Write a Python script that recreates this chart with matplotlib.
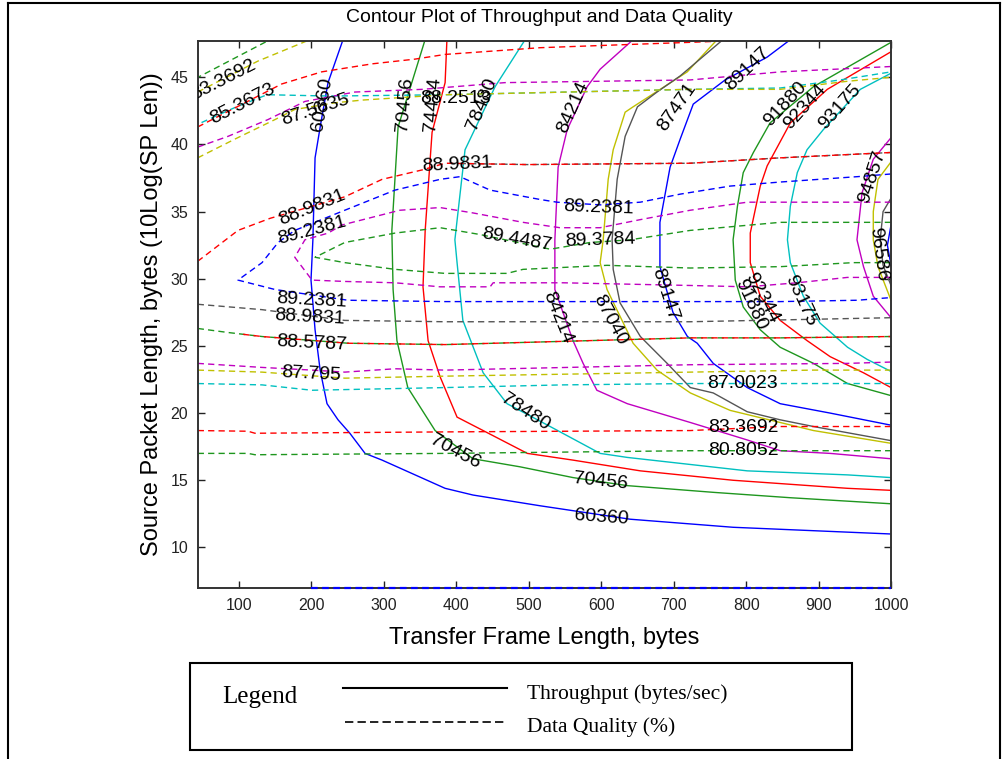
import matplotlib
matplotlib.use("Agg")
import matplotlib.pyplot as plt
from matplotlib import font_manager as fm
from matplotlib.lines import Line2D
from matplotlib.patches import Rectangle

# MATLAB style contour colours
BLUE = '#0000ff'
GREEN = '#1e961e'
RED = '#ff0000'
CYAN = '#00c0c0'
MAGENTA = '#c000c0'
YELLOW = '#c0c000'
GRAY = '#555555'

# --- throughput contours (solid), x = frame length (bytes), y = 10log(SP len)
tp_60360_x = [243.6, 222.9, 213, 205, 202, 199.4, 205, 212, 221.5, 236.7, 253, 274, 297.5, 384.5, 423, 515.7, 640, 782, 1000]
tp_60360_y = [47.8, 44.6, 41.6, 39.0, 32.9, 29.9, 26.2, 23.2, 20.7, 19.5, 18.5, 17.0, 16.5, 14.4, 13.9, 13.1, 12.1, 11.5, 11.0]
tp_70456_x = [356.9, 319.6, 311, 312.7, 318, 333, 370.7, 423, 488, 561, 636, 755, 861, 1000]
tp_70456_y = [47.8, 41.3, 33.6, 29.2, 25.4, 21.9, 18.7, 16.6, 16.0, 15.2, 14.6, 14.1, 13.7, 13.25]
tp_74424_x = [387, 384.5, 366.5, 357, 354, 361, 377.6, 401, 437, 498, 561, 654, 782, 940, 1000]
tp_74424_y = [47.8, 44.6, 40.9, 33.6, 29.4, 25.4, 22.7, 19.7, 18.7, 17.0, 16.5, 15.7, 15.0, 14.4, 14.25]
tp_78480_x = [495, 453.5, 412, 398, 401, 409, 437, 470, 529.5, 598.5, 636, 801.5, 940, 1000]
tp_78480_y = [47.8, 44.3, 39.6, 32.9, 31.2, 26.9, 23.0, 20.7, 19.0, 17.0, 16.7, 15.7, 15.4, 15.2]
tp_84214_x = [644, 598.5, 580.6, 553, 540.5, 536, 536, 561, 575, 594, 636, 723, 801.5, 847, 916, 1000]
tp_84214_y = [47.8, 45.6, 44.3, 41.1, 38.3, 32.9, 29.2, 25.4, 23.7, 21.7, 20.7, 19.3, 18.0, 17.2, 17.0, 16.6]
tp_87040_x = [760, 718.7, 644, 633, 616.5, 609.6, 602.7, 598.5, 608, 644, 677, 723, 778, 847, 893, 1000]
tp_87040_y = [47.8, 45.4, 42.8, 42.4, 39.6, 37.4, 32.9, 31.2, 29.2, 25.2, 23.2, 21.5, 20.2, 19.3, 18.7, 17.75]
tp_87471_x = [768, 709, 677, 650, 633, 622, 615, 616.5, 626, 654, 691, 723, 754.6, 801.5, 847, 893, 1000]
tp_87471_y = [47.8, 45.1, 43.9, 42.8, 40.6, 37.4, 32.9, 30.7, 28.2, 25.7, 23.7, 21.9, 21.5, 20.1, 19.5, 19.0, 17.95]
tp_89147_x = [861, 829, 771, 727, 709, 695, 681, 681, 699, 719, 732.5, 754.6, 801.5, 847, 916, 1000]
tp_89147_y = [47.8, 46.5, 44.8, 43.0, 40.4, 38.3, 34.2, 30.9, 27.5, 25.7, 25.2, 23.7, 21.9, 20.7, 20.0, 19.1]
tp_91880_x = [1000, 893, 833, 810, 796, 788, 782, 785, 796, 819.5, 847, 893, 940, 1000]
tp_91880_y = [47.6, 44.3, 41.6, 39.4, 37.9, 35.4, 32.9, 29.9, 27.9, 26.2, 24.9, 23.7, 22.2, 21.3]
tp_92344_x = [1000, 912, 861, 829, 819.5, 805.7, 805.7, 819.5, 847, 884, 916, 962, 1000]
tp_92344_y = [46.9, 44.1, 41.6, 38.4, 36.9, 33.4, 31.2, 28.7, 26.9, 25.4, 24.2, 23.0, 21.9]
tp_93175_x = [1000, 957.6, 906.5, 884, 870.6, 861, 857, 861, 879, 902, 940, 967, 1000]
tp_93175_y = [45.3, 44.1, 41.1, 39.6, 37.9, 35.4, 32.9, 31.2, 28.7, 26.7, 24.9, 24.0, 23.1]
tp_94857_x = [1000, 975.5, 960, 953, 962, 975.5, 1000]
tp_94857_y = [40.5, 38.9, 36.4, 32.9, 30.9, 28.7, 27.1]
tp_95600_x = [1000, 982, 975.5, 975.5, 982, 1000]
tp_95600_y = [38.7, 37.4, 35.0, 32.9, 30.9, 28.4]
tp_96100_x = [1000, 989, 985, 989, 1000]
tp_96100_y = [36.0, 35.0, 32.9, 31.0, 29.5]
tp_96586_x = [1000, 995, 1000]
tp_96586_y = [34.0, 32.5, 31.0]

# --- data quality contours (dashed)
dq_top_green_x = [40, 150]
dq_top_green_y = [44.9, 48.0]
dq_83_3692_top_x = [43, 126, 198]
dq_83_3692_top_y = [43.9, 46.2, 47.8]
dq_85_3673_x = [43, 94.5, 138.7, 226, 384.5, 722.8, 847, 930, 1000]
dq_85_3673_y = [41.5, 42.75, 43.7, 43.6, 43.7, 44.1, 44.2, 44.8, 45.4]
dq_87_56_x = [43, 94.5, 149.7, 177, 232.6, 270, 384.5, 722.8, 847, 939.6, 1000]
dq_87_56_y = [39.0, 40.4, 41.85, 42.6, 43.1, 43.3, 43.7, 44.1, 44.1, 44.7, 45.0]
dq_88_2513_x = [43, 84.8, 140, 191, 260, 352.7, 467, 722.8, 847, 1000]
dq_88_2513_y = [39.8, 40.6, 41.85, 43.2, 43.9, 44.1, 44.6, 44.8, 45.4, 45.8]
dq_top_red_x = [43, 159, 214, 284, 343, 384.5, 515.7, 644, 722.8, 820]
dq_top_red_y = [41.3, 44.5, 45.4, 46.0, 46.35, 46.7, 47.2, 47.45, 47.6, 47.8]
dq_88_9831_up_x = [43, 98.6, 143, 246, 297.5, 352.7, 384.5, 497.7, 722.8, 847, 1000]
dq_88_9831_up_y = [31.3, 33.6, 34.5, 36.1, 37.4, 38.1, 38.6, 38.5, 38.6, 39.0, 39.4]
dq_gray_up_x = [384.5, 497.7, 722.8, 847, 1000]
dq_gray_up_y = [38.6, 38.5, 38.6, 39.0, 39.4]
dq_89_2381_x = [1000, 953.5, 847, 778, 709, 653.8, 598.5, 539, 515.7, 446.6, 405, 377.6, 315.4, 246, 177,
                154, 131.8, 98.6, 149.7, 250.5, 384.5, 722.8, 847, 953.5, 1000]
dq_89_2381_y = [37.8, 37.6, 37.2, 36.9, 36.3, 35.7, 35.5, 35.7, 35.9, 36.6, 37.6, 37.4, 36.6, 35.1, 33.6,
                32.7, 31.2, 29.9, 29.2, 28.4, 28.3, 28.3, 28.3, 28.4, 28.6]
dq_89_3784_x = [1000, 892.7, 801.5, 722.8, 653.8, 598.5, 543, 492, 423, 377.6, 322, 242, 223, 191, 177,
                200.8, 246, 315.4, 377.6, 446.6, 450.8, 547.4, 722.8, 801.5, 870.6, 939.6, 1000]
dq_89_3784_y = [35.7, 35.7, 35.7, 35.1, 34.4, 33.8, 33.8, 34.2, 34.9, 35.3, 35.1, 34.0, 33.4, 32.9, 31.6,
                29.9, 29.8, 29.7, 29.4, 29.4, 29.7, 29.7, 29.5, 29.4, 29.7, 30.1, 30.1]
dq_89_4487_x = [1000, 847, 722.8, 640, 584.7, 529.5, 432, 377.6, 315.4, 246, 205,
                246, 315.4, 384.5, 470, 492, 608, 722.8, 847, 948, 1000]
dq_89_4487_y = [34.2, 34.2, 33.6, 32.9, 32.7, 32.2, 33.3, 33.8, 33.4, 32.7, 31.6,
                31.2, 30.7, 30.4, 30.4, 30.7, 31.0, 30.8, 30.9, 31.2, 31.2]
dq_88_9831_low_x = [43, 131.8, 246, 384.5, 722.8, 1000]
dq_88_9831_low_y = [28.1, 27.7, 26.9, 26.8, 26.8, 27.1]
dq_88_5787_x = [43, 84.8, 131.8, 250.5, 384.5, 722.8, 847, 1000]
dq_88_5787_y = [26.3, 26.0, 25.7, 25.2, 25.1, 25.6, 25.6, 25.7]
dq_red_mid_x = [100, 131.8, 250.5, 384.5, 722.8, 847, 1000]
dq_red_mid_y = [25.9, 25.7, 25.2, 25.1, 25.6, 25.6, 25.7]
dq_88_3_x = [43, 131.8, 200.8, 246, 315.4, 384.5, 722.8, 939.6, 1000]
dq_88_3_y = [23.7, 23.4, 23.2, 23.05, 23.3, 23.2, 23.6, 23.7, 23.8]
dq_87_795_x = [43, 131.8, 246, 384.5, 722.8, 892.7, 1000]
dq_87_795_y = [23.2, 23.05, 22.6, 22.75, 23.05, 23.2, 23.2]
dq_87_0023_x = [43, 131.8, 200.8, 384.5, 547.4, 722.8, 1000]
dq_87_0023_y = [22.2, 22.1, 21.7, 21.9, 22.1, 22.2, 22.2]
dq_83_3692_x = [43, 112.4, 122, 384.5, 722.8, 847, 1000]
dq_83_3692_y = [18.7, 18.65, 18.5, 18.6, 18.7, 19.0, 19.0]
dq_80_8052_x = [43, 112.4, 122, 384.5, 722.8, 1000]
dq_80_8052_y = [17.0, 17.0, 16.9, 17.0, 17.2, 17.2]
dq_bottom_x = [200, 1000]
dq_bottom_y = [7.0, 7.0]

# --- contour labels: text, x, y, rotation
tp_labels = [
    ('60360', 214.6, 43.0, 80), ('70456', 329, 43.0, 85), ('74424', 368, 43.0, 85),
    ('78480', 435.6, 43.0, 68), ('84214', 561, 42.8, 66), ('87471', 704, 42.8, 55),
    ('89147', 801.5, 45.6, 44), ('91880', 854, 43.0, 47), ('92344', 881.6, 42.8, 48),
    ('93175', 930, 42.8, 48), ('94857', 974, 37.6, 72), ('96586', 983, 31.8, -82),
    ('84214', 539, 27.1, -68), ('87040', 612, 26.9, -62), ('89147', 688, 28.8, -72),
    ('91880', 805.7, 28.05, -65), ('92344', 822, 28.6, -62), ('93175', 875, 28.4, -65),
    ('78480', 495, 20.1, -33), ('70456', 398, 17.1, -28), ('70456', 598.5, 14.9, -6),
    ('60360', 600, 12.2, -4),
]
dq_labels = [
    ('83.3692', 78, 44.8, 27), ('85.3673', 105.5, 43.0, 27), ('87.5635', 205, 42.6, 18),
    ('88.2513', 398.5, 43.4, 0), ('88.9831', 200.8, 35.3, 22), ('89.2381', 200.8, 33.6, 15),
    ('88.9831', 401, 38.5, 3), ('89.2381', 596, 35.3, -2), ('89.4487', 484, 32.9, -10),
    ('89.3784', 598.5, 32.9, 2), ('89.2381', 200.8, 28.4, -3), ('88.9831', 198, 27.1, -3),
    ('88.5787', 200.8, 25.2, -3), ('87.795', 199.4, 22.9, -3), ('87.0023', 795, 22.2, 0),
    ('83.3692', 796, 18.9, 0), ('80.8052', 796, 17.2, 0),
]

names = {f.name for f in fm.fontManager.ttflist}
if 'Liberation Sans Narrow' in names:
    SANS = ['Liberation Sans Narrow', 'DejaVu Sans']
    k = 1.2
else:
    SANS = ['Liberation Sans', 'DejaVu Sans']
    k = 1.0
SERIF = ['Liberation Serif', 'DejaVu Serif']

fig = plt.figure(figsize=(10.05, 7.59), dpi=100)
ax = fig.add_axes([0.197, 0.2253, 0.6896, 0.7207])
ax.set_xlim(43.4, 1000)
ax.set_ylim(6.98, 47.7)

DASH = (0, (4.5, 3))
DASH_B = (4.5, (4.5, 3))
solid = [
    (tp_60360_x, tp_60360_y, BLUE), (tp_70456_x, tp_70456_y, GREEN), (tp_74424_x, tp_74424_y, RED),
    (tp_78480_x, tp_78480_y, CYAN), (tp_84214_x, tp_84214_y, MAGENTA), (tp_87040_x, tp_87040_y, YELLOW),
    (tp_87471_x, tp_87471_y, GRAY), (tp_89147_x, tp_89147_y, BLUE), (tp_91880_x, tp_91880_y, GREEN),
    (tp_92344_x, tp_92344_y, RED), (tp_93175_x, tp_93175_y, CYAN), (tp_94857_x, tp_94857_y, MAGENTA),
    (tp_95600_x, tp_95600_y, YELLOW), (tp_96100_x, tp_96100_y, GRAY), (tp_96586_x, tp_96586_y, BLUE),
]
dashed = [
    (dq_top_green_x, dq_top_green_y, GREEN, DASH), (dq_83_3692_top_x, dq_83_3692_top_y, YELLOW, DASH),
    (dq_85_3673_x, dq_85_3673_y, CYAN, DASH_B), (dq_87_56_x, dq_87_56_y, YELLOW, DASH),
    (dq_88_2513_x, dq_88_2513_y, MAGENTA, DASH), (dq_top_red_x, dq_top_red_y, RED, DASH),
    (dq_gray_up_x, dq_gray_up_y, GRAY, DASH_B), (dq_88_9831_up_x, dq_88_9831_up_y, RED, DASH),
    (dq_89_2381_x, dq_89_2381_y, BLUE, DASH), (dq_89_3784_x, dq_89_3784_y, MAGENTA, DASH),
    (dq_89_4487_x, dq_89_4487_y, GREEN, DASH), (dq_88_9831_low_x, dq_88_9831_low_y, GRAY, DASH),
    (dq_88_5787_x, dq_88_5787_y, GREEN, DASH), (dq_red_mid_x, dq_red_mid_y, RED, DASH_B),
    (dq_88_3_x, dq_88_3_y, MAGENTA, DASH), (dq_87_795_x, dq_87_795_y, YELLOW, DASH),
    (dq_87_0023_x, dq_87_0023_y, CYAN, DASH), (dq_83_3692_x, dq_83_3692_y, RED, DASH),
    (dq_80_8052_x, dq_80_8052_y, GREEN, DASH),
]
for xs, ys, c in solid:
    ax.plot(xs, ys, color=c, lw=1.0, solid_joinstyle='miter')
for xs, ys, c, ls in dashed:
    ax.plot(xs, ys, color=c, lw=1.0, linestyle=ls)
# the lowest quality contour runs along the bottom frame
ax.plot(dq_bottom_x, dq_bottom_y, color=BLUE, lw=1.6, linestyle=(0, (3, 2)), zorder=3, clip_on=False)

for txt, x, y, rot in tp_labels + dq_labels:
    ax.text(x, y, txt, rotation=rot, ha='center', va='center', fontsize=14 * k,
            family=SANS, color='black', rotation_mode='anchor', clip_on=True)

ax.set_xticks(range(100, 1001, 100))
ax.set_yticks(range(10, 46, 5))
ax.tick_params(direction='in', length=5, width=1, top=True, right=True,
               labelsize=11.5 * k, pad=7, colors='#222222')
for lab in ax.get_xticklabels() + ax.get_yticklabels():
    lab.set_family(SANS)
for sp in ax.spines.values():
    sp.set_linewidth(1.4)
    sp.set_color('#333333')

ax.set_xlabel('Transfer Frame Length, bytes', fontsize=17 * k, family=SANS, labelpad=10)
ax.set_ylabel('Source Packet Length, bytes (10Log(SP Len))', fontsize=17 * k, family=SANS, labelpad=5)
fig.text(0.537, 1 - 18 / 759, 'Contour Plot of Throughput and Data Quality', ha='center', va='center',
         fontsize=14 * k, family=SANS)

# outer frame of the figure
fig.add_artist(Line2D([8 / 1005, 8 / 1005], [0, 1 - 3 / 759], transform=fig.transFigure, color='black', lw=1.5))
fig.add_artist(Line2D([8 / 1005, 1000 / 1005], [1 - 3 / 759, 1 - 3 / 759], transform=fig.transFigure, color='black', lw=1.5))
fig.add_artist(Line2D([1000 / 1005, 1000 / 1005], [0, 1 - 3 / 759], transform=fig.transFigure, color='black', lw=1.5))

# legend box drawn by hand
fig.add_artist(Rectangle((190 / 1005, 9 / 759), 662 / 1005, 87 / 759, transform=fig.transFigure,
                         fill=False, edgecolor='black', lw=1.5))
fig.text(222 / 1005, 1 - 697 / 759, 'Legend', ha='left', va='center', fontsize=18, family=SERIF)
fig.add_artist(Line2D([343 / 1005, 507 / 1005], [1 - 688 / 759, 1 - 688 / 759], transform=fig.transFigure,
                      color='black', lw=1.5))
fig.add_artist(Line2D([345 / 1005, 507 / 1005], [1 - 722 / 759, 1 - 722 / 759], transform=fig.transFigure,
                      color='black', lw=1.2, linestyle=(0, (5, 2.5))))
fig.text(527 / 1005, 1 - 694 / 759, 'Throughput (bytes/sec)', ha='left', va='center', fontsize=15.5, family=SERIF)
fig.text(527 / 1005, 1 - 727 / 759, 'Data Quality (%)', ha='left', va='center', fontsize=15.5, family=SERIF)

fig.savefig('out.png', dpi=100)
